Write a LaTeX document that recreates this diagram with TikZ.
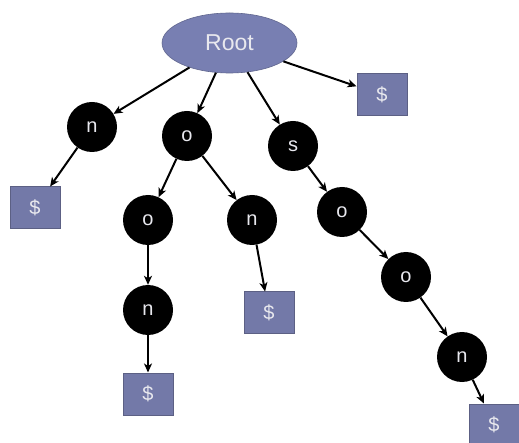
\documentclass[tikz,border=0pt]{standalone}
\usepackage{fontspec}
\setmainfont{Liberation Sans}
\usetikzlibrary{arrows.meta,shapes.geometric}
\definecolor{nodeblue}{RGB}{120,127,178}
\definecolor{boxblue}{RGB}{115,121,168}
\definecolor{boxedge}{RGB}{92,96,132}
\definecolor{txtlight}{RGB}{232,232,238}
\begin{document}
\begin{tikzpicture}[x=1pt,y=1pt,
  rootnode/.style={ellipse,fill=nodeblue,draw=nodeblue!80!black,line width=0.6pt,minimum width=135pt,minimum height=60pt,inner sep=0pt,text=txtlight,font=\fontsize{23}{26}\selectfont},
  letter/.style={circle,fill=black,minimum size=50pt,inner sep=0pt,text=txtlight,font=\fontsize{20}{24}\selectfont},
  endbox/.style={rectangle,fill=boxblue,draw=boxedge,line width=1pt,minimum width=50pt,minimum height=42pt,inner sep=0pt,text=txtlight,font=\fontsize{20}{24}\selectfont},
  link/.style={line width=2pt,-{Stealth[length=9pt,width=8pt,inset=2.5pt]}}]
\useasboundingbox (0,0) rectangle (519,-443);
\node[rootnode] (root) at (229.5,-43) {Root};
\node[letter] (n1) at (92,-127) {n};
\node[letter] (o1) at (187,-136) {o};
\node[letter] (s1) at (293,-146) {s};
\node[endbox] (dR) at (382,-95) {\$};
\node[endbox] (d1) at (35,-208) {\$};
\node[letter] (o2) at (148,-220) {o};
\node[letter] (n3) at (252,-220) {n};
\node[letter] (o4) at (342,-212) {o};
\node[letter] (n2) at (148,-310) {n};
\node[endbox] (d2) at (148,-394) {\$};
\node[endbox] (d3) at (269,-313) {\$};
\node[letter] (o5) at (406,-277) {o};
\node[letter] (n5) at (462,-357) {n};
\node[endbox] (d5) at (494,-425) {\$};
\draw[link] (root) -- (n1);
\draw[link] (root) -- (o1);
\draw[link] (root) -- (s1);
\draw[link] (root) -- (dR);
\draw[link] (n1) -- (d1);
\draw[link] (o1) -- (o2);
\draw[link] (o1) -- (n3);
\draw[link] (s1) -- (o4);
\draw[link] (o2) -- (n2);
\draw[link] (n2) -- (d2);
\draw[link] (n3) -- (d3);
\draw[link] (o4) -- (o5);
\draw[link] (o5) -- (n5);
\draw[link] (n5) -- (d5);
\end{tikzpicture}
\end{document}
